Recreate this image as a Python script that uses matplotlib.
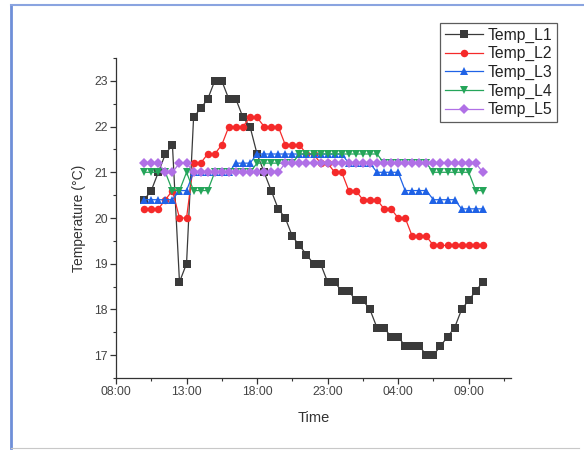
import matplotlib
matplotlib.use("Agg")
import matplotlib.pyplot as plt
from matplotlib.lines import Line2D
import pandas as pd

plt.rcParams['font.family'] = ['Liberation Sans', 'DejaVu Sans']

# ---- data (30-minute readings, 10:00 -> 10:00 next day) ----
start_time = "2021-01-01 10:00"
n_points = 49
temp_l1 = [20.4, 20.6, 21.0, 21.4, 21.6, 18.6, 19.0, 22.2, 22.4, 22.6,
           23.0, 23.0, 22.6, 22.6, 22.2, 22.0, 21.4, 21.0, 20.6, 20.2,
           20.0, 19.6, 19.4, 19.2, 19.0, 19.0, 18.6, 18.6, 18.4, 18.4,
           18.2, 18.2, 18.0, 17.6, 17.6, 17.4, 17.4, 17.2, 17.2, 17.2,
           17.0, 17.0, 17.2, 17.4, 17.6, 18.0, 18.2, 18.4, 18.6]
temp_l2 = [20.2, 20.2, 20.2, 20.4, 20.6, 20.0, 20.0, 21.2, 21.2, 21.4,
           21.4, 21.6, 22.0, 22.0, 22.0, 22.2, 22.2, 22.0, 22.0, 22.0,
           21.6, 21.6, 21.6, 21.4, 21.4, 21.2, 21.2, 21.0, 21.0, 20.6,
           20.6, 20.4, 20.4, 20.4, 20.2, 20.2, 20.0, 20.0, 19.6, 19.6,
           19.6, 19.4, 19.4, 19.4, 19.4, 19.4, 19.4, 19.4, 19.4]
temp_l3 = [20.4, 20.4, 20.4, 20.4, 20.4, 20.6, 20.6, 21.0, 21.0, 21.0,
           21.0, 21.0, 21.0, 21.2, 21.2, 21.2, 21.4, 21.4, 21.4, 21.4,
           21.4, 21.4, 21.4, 21.4, 21.4, 21.4, 21.4, 21.4, 21.4, 21.2,
           21.2, 21.2, 21.2, 21.0, 21.0, 21.0, 21.0, 20.6, 20.6, 20.6,
           20.6, 20.4, 20.4, 20.4, 20.4, 20.2, 20.2, 20.2, 20.2]
temp_l4 = [21.0, 21.0, 21.0, 21.0, 20.6, 20.6, 21.0, 20.6, 20.6, 20.6,
           21.0, 21.0, 21.0, 21.0, 21.0, 21.0, 21.2, 21.2, 21.2, 21.2,
           21.2, 21.2, 21.4, 21.4, 21.4, 21.4, 21.4, 21.4, 21.4, 21.4,
           21.4, 21.4, 21.4, 21.4, 21.2, 21.2, 21.2, 21.2, 21.2, 21.2,
           21.2, 21.0, 21.0, 21.0, 21.0, 21.0, 21.0, 20.6, 20.6]
temp_l5 = [21.2, 21.2, 21.2, 21.0, 21.0, 21.2, 21.2, 21.0, 21.0, 21.0,
           21.0, 21.0, 21.0, 21.0, 21.0, 21.0, 21.0, 21.0, 21.0, 21.0,
           21.2, 21.2, 21.2, 21.2, 21.2, 21.2, 21.2, 21.2, 21.2, 21.2,
           21.2, 21.2, 21.2, 21.2, 21.2, 21.2, 21.2, 21.2, 21.2, 21.2,
           21.2, 21.2, 21.2, 21.2, 21.2, 21.2, 21.2, 21.2, 21.0]
series_names = ["Temp_L1", "Temp_L2", "Temp_L3", "Temp_L4", "Temp_L5"]
tick_labels = ["08:00", "13:00", "18:00", "23:00", "04:00", "09:00"]

times = pd.date_range(start_time, periods=n_points, freq="30min")
major_ticks = pd.date_range("2021-01-01 08:00", periods=6, freq="5h")
minor_ticks = pd.date_range("2021-01-01 10:30", periods=6, freq="5h")

colors = ["#3a3a3a", "#f52a2a", "#1f62e6", "#25a55a", "#b070e6"]
markers = ["s", "o", "^", "v", "D"]
msizes = [5.4, 5.4, 5.8, 5.8, 4.8]

fig = plt.figure(figsize=(5.84, 4.53), dpi=100)
ax = fig.add_axes([116/584, 1-378/453, (511-116)/584, (378-58)/453])

for vals, name, c, m, ms in zip([temp_l1, temp_l2, temp_l3, temp_l4, temp_l5],
                                series_names, colors, markers, msizes):
    ax.plot(times, vals, color=c, marker=m, markersize=ms, linewidth=0.9,
            markeredgewidth=0, label=name)

ax.set_xlim(pd.Timestamp("2021-01-01 08:00"), pd.Timestamp("2021-01-02 12:00"))
ax.set_ylim(16.5, 23.5)
ax.set_xticks(major_ticks)
ax.set_xticklabels(tick_labels)
ax.set_xticks(minor_ticks, minor=True)
ax.set_yticks([17, 18, 19, 20, 21, 22, 23])
ax.set_yticks([16.5, 17.5, 18.5, 19.5, 20.5, 21.5, 22.5, 23.5], minor=True)

for s in ["top", "right"]:
    ax.spines[s].set_visible(False)
for s in ["left", "bottom"]:
    ax.spines[s].set_color("#333333")
    ax.spines[s].set_linewidth(0.9)

ax.tick_params(which="major", direction="out", length=4, width=0.9,
               color="#333333", labelsize=8.8, labelcolor="#444444", pad=2)
ax.tick_params(which="minor", direction="out", length=2.5, width=0.8,
               color="#333333")

ax.set_xlabel("Time", fontsize=10.5, color="#333333", labelpad=9)
ax.set_ylabel("Temperature (\u00b0C)", fontsize=10, color="#333333", labelpad=6)

leg = fig.legend(loc="upper right", bbox_to_anchor=(557/584, 1-23/453),
                 bbox_transform=fig.transFigure, fontsize=11.3, frameon=True,
                 fancybox=False, shadow=False, handlelength=2.4,
                 handletextpad=0.3, borderpad=0.3, labelspacing=0.22,
                 borderaxespad=0)
leg.get_frame().set_edgecolor("#333333")
leg.get_frame().set_linewidth(0.9)
for t in leg.get_texts():
    t.set_color("#222222")

# figure border (screenshot frame)
fig.add_artist(Line2D([11/584, 11/584], [1-448/453, 1-5/453],
                      transform=fig.transFigure, color="#6f8fd8", linewidth=2))
fig.add_artist(Line2D([11/584, 1], [1-5/453, 1-5/453],
                      transform=fig.transFigure, color="#8aa4e0", linewidth=1.5))
fig.add_artist(Line2D([11/584, 579/584], [1-448/453, 1-448/453],
                      transform=fig.transFigure, color="#c8c8c8", linewidth=0.8))

fig.savefig("out.png", dpi=100)
